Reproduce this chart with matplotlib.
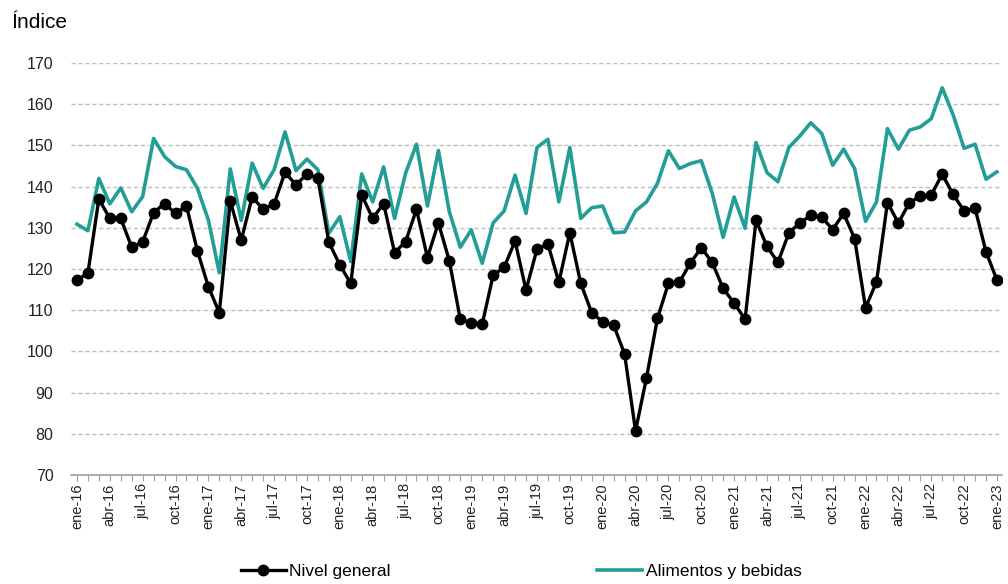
import matplotlib
matplotlib.use("Agg")
import matplotlib.pyplot as plt
import numpy as np
from matplotlib.ticker import MultipleLocator

plt.rcParams['font.family'] = ['Liberation Sans', 'DejaVu Sans']

# meses ene-16 .. ene-23
meses = ['ene', 'feb', 'mar', 'abr', 'may', 'jun', 'jul', 'ago', 'sep', 'oct', 'nov', 'dic']
fechas = [f"{meses[i % 12]}-{16 + i // 12}" for i in range(85)]

nivel_general = [
    117.3, 119.0, 137.0, 132.3, 132.3, 125.3, 126.6, 133.7, 135.9, 133.5, 135.3, 124.4,
    115.7, 109.4, 136.5, 127.0, 137.5, 134.5, 135.8, 143.5, 140.4, 143.1, 142.0, 126.5,
    121.0, 116.5, 138.0, 132.3, 135.9, 124.0, 126.6, 134.5, 122.8, 131.2, 122.0, 107.8,
    107.0, 106.6, 118.5, 120.4, 126.8, 114.9, 124.8, 126.1, 116.8, 128.8, 116.5, 109.4,
    107.2, 106.4, 99.4, 80.7, 93.6, 108.0, 116.5, 116.8, 121.4, 125.2, 121.6, 115.3,
    111.7, 107.8, 131.8, 125.5, 121.6, 128.8, 131.2, 133.0, 132.6, 129.6, 133.5, 127.4,
    110.6, 116.9, 136.1, 131.2, 136.1, 137.7, 138.0, 143.0, 138.1, 134.1, 134.7, 124.2,
    117.3,
]

alimentos = [
    130.9, 129.3, 142.0, 135.8, 139.7, 133.9, 137.6, 151.7, 147.3, 144.9, 144.1, 139.6,
    131.9, 119.1, 144.3, 131.8, 145.7, 139.6, 144.1, 153.3, 143.9, 146.7, 144.1, 128.7,
    132.7, 121.8, 143.1, 136.3, 144.8, 132.3, 143.2, 150.3, 135.3, 148.8, 133.9, 125.3,
    129.5, 121.4, 131.2, 134.1, 142.8, 133.5, 149.5, 151.5, 136.3, 149.5, 132.3, 134.9,
    135.3, 128.8, 129.0, 134.1, 136.3, 140.8, 148.7, 144.4, 145.6, 146.3, 138.4, 127.7,
    137.5, 129.9, 150.7, 143.4, 141.2, 149.5, 152.3, 155.5, 152.9, 145.2, 149.1, 144.4,
    131.6, 136.3, 154.1, 149.1, 153.7, 154.5, 156.5, 164.0, 157.4, 149.3, 150.3, 141.8,
    143.6,
]

x = np.arange(len(fechas))

fig = plt.figure(figsize=(10.08, 5.84), dpi=100)
ax = fig.add_axes([0.0709, 0.1866, 0.9236, 0.7054])

ax.plot(x, nivel_general, color='black', lw=2.4, marker='o', markersize=7.5, label='Nivel general', zorder=3)
ax.plot(x, alimentos, color='#239e96', lw=2.6, label='Alimentos y bebidas', zorder=2)

ax.set_ylim(70, 170)
ax.set_xlim(-0.5, 84.5)
ax.yaxis.set_major_locator(MultipleLocator(10))
ax.grid(axis='y', linestyle=(0, (3, 2)), color='#bfbfbf', lw=1)
ax.set_axisbelow(True)

ax.set_xticks(x[::3])
ax.set_xticklabels(fechas[::3], rotation=90, fontsize=10.5, color='#222222')
ax.set_xticks(x, minor=True)
ax.tick_params(axis='x', which='both', direction='out', length=4, color='#a0a0a0', width=0.8, pad=2)
ax.tick_params(axis='y', length=0, labelsize=11.5, pad=13, labelcolor='#222222')

for s in ['top', 'right', 'left']:
    ax.spines[s].set_visible(False)
ax.spines['bottom'].set_color('#a0a0a0')
ax.spines['bottom'].set_linewidth(1.2)

fig.text(0.011, 0.962, 'Índice', fontsize=15, va='center', ha='left')

fig.legend(loc='lower center', bbox_to_anchor=(0.517, -0.018), ncol=2, frameon=False,
           fontsize=12.5, columnspacing=11.9, handlelength=2.6, handletextpad=0.2)

fig.savefig('out.png', dpi=100)
